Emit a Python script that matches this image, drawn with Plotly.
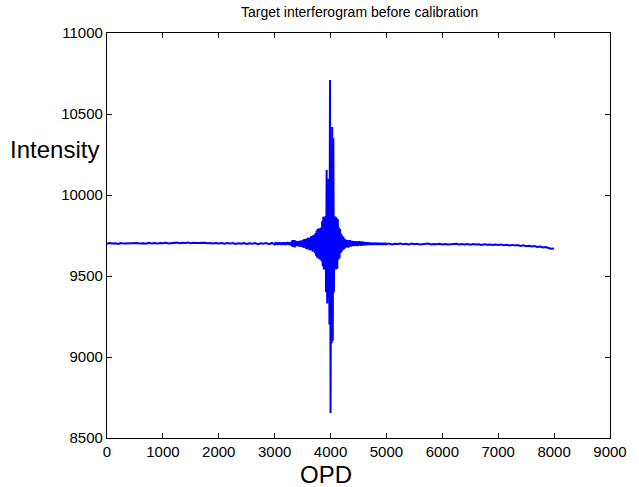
import numpy as np
import plotly.graph_objects as go

# Interferogram samples: left baseline, central burst, right baseline
opd_left = np.arange(0, 3000, 50)
intensity_left = [
    9699, 9703, 9700, 9702, 9698, 9704, 9700, 9701, 9699, 9703,
    9701, 9704, 9700, 9702, 9699, 9705, 9701, 9703, 9700, 9704,
    9702, 9705, 9701, 9704, 9703, 9706, 9702, 9705, 9703, 9706,
    9702, 9705, 9703, 9704, 9701, 9705, 9702, 9704, 9700, 9703,
    9701, 9704, 9699, 9703, 9700, 9704, 9698, 9702, 9699, 9703,
    9698, 9702, 9699, 9703, 9697, 9702, 9699, 9703, 9697, 9704,
]

opd_burst = np.arange(3000, 5000, 10)
intensity_burst = [
    9694, 9707, 9695, 9708, 9693, 9706, 9692, 9707, 9694, 9708,
    9693, 9706, 9691, 9707, 9694, 9709, 9692, 9706, 9694, 9709,
    9691, 9707, 9693, 9710, 9692, 9706, 9691, 9709, 9693, 9711,
    9686, 9718, 9680, 9722, 9681, 9721, 9677, 9718, 9684, 9714,
    9688, 9715, 9683, 9713, 9685, 9718, 9680, 9716, 9682, 9720,
    9678, 9724, 9674, 9728, 9675, 9730, 9668, 9728, 9666, 9736,
    9670, 9738, 9660, 9735, 9658, 9745, 9662, 9748, 9650, 9752,
    9650, 9755, 9640, 9765, 9625, 9780, 9615, 9790, 9610, 9795,
    9605, 9795, 9600, 9800, 9590, 9840, 9560, 9865, 9540, 9860,
    9545, 9870, 9400, 10154, 9330, 10100, 9370, 10000, 9200, 10710,
    8655, 10200, 9085, 10420, 9100, 10350, 9400, 9870, 9540, 9865,
    9540, 9860, 9545, 9850, 9600, 9800, 9610, 9790, 9640, 9760,
    9650, 9750, 9660, 9740, 9665, 9730, 9672, 9725, 9676, 9722,
    9680, 9722, 9675, 9720, 9682, 9721, 9681, 9716, 9685, 9717,
    9686, 9715, 9684, 9713, 9686, 9716, 9688, 9714, 9685, 9712,
    9687, 9715, 9689, 9713, 9686, 9712, 9690, 9714, 9688, 9711,
    9690, 9710, 9691, 9709, 9690, 9708, 9692, 9709, 9691, 9707,
    9692, 9706, 9693, 9705, 9692, 9706, 9693, 9705, 9692, 9706,
    9693, 9705, 9692, 9706, 9693, 9705, 9692, 9704, 9693, 9705,
    9692, 9704, 9693, 9705, 9692, 9704, 9693, 9705, 9692, 9704,
]

opd_right = np.arange(5000, 8001, 50)
intensity_right = [
    9696, 9700, 9695, 9699, 9697, 9700, 9696, 9699, 9695, 9700,
    9696, 9699, 9695, 9698, 9697, 9700, 9695, 9698, 9696, 9699,
    9695, 9698, 9694, 9697, 9696, 9699, 9694, 9697, 9695, 9698,
    9693, 9697, 9694, 9696, 9692, 9696, 9693, 9695, 9692, 9695,
    9691, 9694, 9690, 9693, 9689, 9692, 9688, 9691, 9686, 9689,
    9684, 9687, 9682, 9685, 9679, 9682, 9676, 9679, 9673, 9668,
    9670,
]

x_ticks = list(range(0, 9001, 1000))
y_ticks = list(range(8500, 11001, 500))

opd = np.concatenate([opd_left, opd_burst, opd_right])
intensity = np.array(intensity_left + intensity_burst + intensity_right)

fig = go.Figure()
fig.add_trace(go.Scatter(
    x=opd, y=intensity, mode="lines",
    line=dict(color="#0000FF", width=2),
    showlegend=False, hoverinfo="skip",
))

axis_common = dict(
    showline=True, linecolor="black", linewidth=1.2, mirror="ticks",
    ticks="inside", ticklen=5, tickwidth=1, tickcolor="black",
    showgrid=False, zeroline=False,
    tickfont=dict(family="Liberation Sans, Arial", size=15, color="black"),
)

fig.update_layout(
    width=639, height=487,
    margin=dict(l=107, r=18, t=33, b=49),
    paper_bgcolor="white", plot_bgcolor="white",
    xaxis=dict(range=[0, 9000], tickvals=x_ticks,
               ticktext=[str(v) for v in x_ticks], **axis_common),
    yaxis=dict(range=[8500, 11000], tickvals=y_ticks,
               ticktext=[str(v) for v in y_ticks], **axis_common),
    annotations=[
        dict(text="Target interferogram before calibration",
             xref="paper", yref="paper", x=0.502, y=1.051,
             xanchor="center", yanchor="middle", showarrow=False,
             font=dict(family="Liberation Sans, Arial", size=14, color="black")),
        dict(text="Intensity", xref="paper", yref="paper",
             x=-0.0117, y=0.713, xanchor="right", yanchor="middle",
             showarrow=False,
             font=dict(family="Liberation Sans, Arial", size=24, color="black")),
        dict(text="OPD", xref="paper", yref="paper",
             x=0.436, y=-0.089, xanchor="center", yanchor="middle",
             showarrow=False,
             font=dict(family="Liberation Sans, Arial", size=24, color="black")),
    ],
)

fig.write_html("out.html")
